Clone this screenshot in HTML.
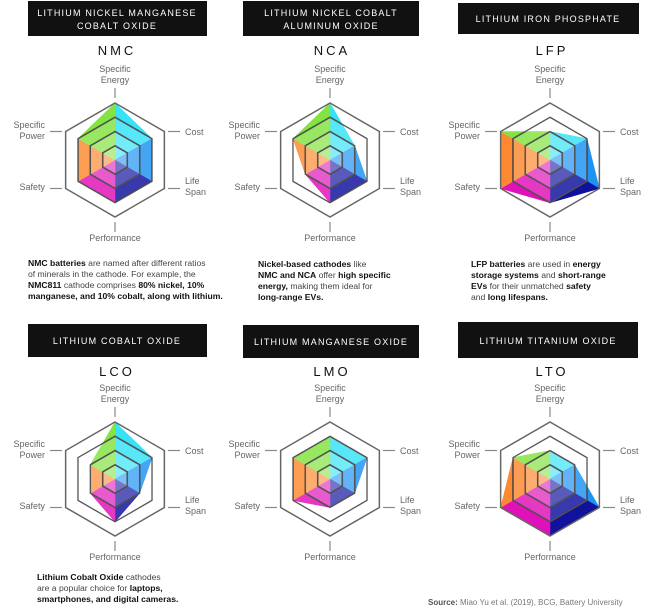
<!DOCTYPE html>
<html><head><meta charset="utf-8"><style>
html,body{margin:0;padding:0;background:#fff;width:655px;height:608px;overflow:hidden}
svg{display:block;font-family:"Liberation Sans",sans-serif}
.t{fill:#fff;font-size:9px;letter-spacing:1.2px;text-anchor:middle}
.c{fill:#111;font-size:13px;letter-spacing:3px;text-anchor:middle}
.l{fill:#666;font-size:9px}
.d{fill:#444;font-size:8.6px}
.d tspan.b{font-weight:bold;fill:#111}
</style></head><body>
<svg id="s" width="655" height="608" viewBox="0 0 655 608">
<rect x="28" y="1" width="179" height="35" fill="#111"/>
<text class="t" x="117" y="16">LITHIUM NICKEL MANGANESE</text>
<text class="t" x="117" y="29">COBALT OXIDE</text>
<rect x="243" y="1" width="176" height="35" fill="#111"/>
<text class="t" x="331" y="16">LITHIUM NICKEL COBALT</text>
<text class="t" x="331" y="29">ALUMINUM OXIDE</text>
<rect x="458" y="3" width="181" height="31" fill="#111"/>
<text class="t" x="548" y="22">LITHIUM IRON PHOSPHATE</text>
<rect x="28" y="324" width="179" height="33" fill="#111"/>
<text class="t" x="117" y="344">LITHIUM COBALT OXIDE</text>
<rect x="243" y="325" width="176" height="33" fill="#111"/>
<text class="t" x="331" y="345">LITHIUM MANGANESE OXIDE</text>
<rect x="458" y="322" width="180" height="36" fill="#111"/>
<text class="t" x="548" y="344">LITHIUM TITANIUM OXIDE</text>

<text class="c" x="117" y="55">NMC</text>
<text class="c" x="332" y="55">NCA</text>
<text class="c" x="552" y="55">LFP</text>
<text class="c" x="117" y="376">LCO</text>
<text class="c" x="332" y="376">LMO</text>
<text class="c" x="552" y="376">LTO</text>

<g id="g0" transform="translate(115,160)"></g>
<g id="g1" transform="translate(330,160)"></g>
<g id="g2" transform="translate(550,160)"></g>
<g id="g3" transform="translate(115,479)"></g>
<g id="g4" transform="translate(330,479)"></g>
<g id="g5" transform="translate(550,479)"></g>

<g transform="translate(115,160)" class="l"><text x="0" y="-88" text-anchor="middle">Specific</text><text x="0" y="-77" text-anchor="middle">Energy</text><text x="70" y="-25">Cost</text><text x="70" y="24">Life</text><text x="70" y="35">Span</text><text x="-70" y="30" text-anchor="end">Safety</text><text x="-70" y="-32" text-anchor="end">Specific</text><text x="-70" y="-21" text-anchor="end">Power</text><text x="0" y="81" text-anchor="middle">Performance</text></g>
<g transform="translate(330,160)" class="l"><text x="0" y="-88" text-anchor="middle">Specific</text><text x="0" y="-77" text-anchor="middle">Energy</text><text x="70" y="-25">Cost</text><text x="70" y="24">Life</text><text x="70" y="35">Span</text><text x="-70" y="30" text-anchor="end">Safety</text><text x="-70" y="-32" text-anchor="end">Specific</text><text x="-70" y="-21" text-anchor="end">Power</text><text x="0" y="81" text-anchor="middle">Performance</text></g>
<g transform="translate(550,160)" class="l"><text x="0" y="-88" text-anchor="middle">Specific</text><text x="0" y="-77" text-anchor="middle">Energy</text><text x="70" y="-25">Cost</text><text x="70" y="24">Life</text><text x="70" y="35">Span</text><text x="-70" y="30" text-anchor="end">Safety</text><text x="-70" y="-32" text-anchor="end">Specific</text><text x="-70" y="-21" text-anchor="end">Power</text><text x="0" y="81" text-anchor="middle">Performance</text></g>
<g transform="translate(115,479)" class="l"><text x="0" y="-88" text-anchor="middle">Specific</text><text x="0" y="-77" text-anchor="middle">Energy</text><text x="70" y="-25">Cost</text><text x="70" y="24">Life</text><text x="70" y="35">Span</text><text x="-70" y="30" text-anchor="end">Safety</text><text x="-70" y="-32" text-anchor="end">Specific</text><text x="-70" y="-21" text-anchor="end">Power</text><text x="0" y="81" text-anchor="middle">Performance</text></g>
<g transform="translate(330,479)" class="l"><text x="0" y="-88" text-anchor="middle">Specific</text><text x="0" y="-77" text-anchor="middle">Energy</text><text x="70" y="-25">Cost</text><text x="70" y="24">Life</text><text x="70" y="35">Span</text><text x="-70" y="30" text-anchor="end">Safety</text><text x="-70" y="-32" text-anchor="end">Specific</text><text x="-70" y="-21" text-anchor="end">Power</text><text x="0" y="81" text-anchor="middle">Performance</text></g>
<g transform="translate(550,479)" class="l"><text x="0" y="-88" text-anchor="middle">Specific</text><text x="0" y="-77" text-anchor="middle">Energy</text><text x="70" y="-25">Cost</text><text x="70" y="24">Life</text><text x="70" y="35">Span</text><text x="-70" y="30" text-anchor="end">Safety</text><text x="-70" y="-32" text-anchor="end">Specific</text><text x="-70" y="-21" text-anchor="end">Power</text><text x="0" y="81" text-anchor="middle">Performance</text></g>

<text class="d" x="28" y="266"><tspan class="b">NMC batteries</tspan> are named after different ratios</text>
<text class="d" x="28" y="277">of minerals in the cathode. For example, the</text>
<text class="d" x="28" y="288"><tspan class="b">NMC811</tspan> cathode comprises <tspan class="b">80% nickel, 10%</tspan></text>
<text class="d" x="28" y="299"><tspan class="b">manganese, and 10% cobalt, along with lithium.</tspan></text>

<text class="d" x="258" y="267"><tspan class="b">Nickel-based cathodes</tspan> like</text>
<text class="d" x="258" y="278"><tspan class="b">NMC and NCA</tspan> offer <tspan class="b">high specific</tspan></text>
<text class="d" x="258" y="289"><tspan class="b">energy,</tspan> making them ideal for</text>
<text class="d" x="258" y="300"><tspan class="b">long-range EVs.</tspan></text>

<text class="d" x="471" y="267"><tspan class="b">LFP batteries</tspan> are used in <tspan class="b">energy</tspan></text>
<text class="d" x="471" y="278"><tspan class="b">storage systems</tspan> and <tspan class="b">short-range</tspan></text>
<text class="d" x="471" y="289"><tspan class="b">EVs</tspan> for their unmatched <tspan class="b">safety</tspan></text>
<text class="d" x="471" y="300">and <tspan class="b">long lifespans.</tspan></text>

<text class="d" x="37" y="580"><tspan class="b">Lithium Cobalt Oxide</tspan> cathodes</text>
<text class="d" x="37" y="591">are a popular choice for <tspan class="b">laptops,</tspan></text>
<text class="d" x="37" y="602"><tspan class="b">smartphones, and digital cameras.</tspan></text>

<text class="d" x="428" y="605" style="font-size:8px;fill:#777"><tspan class="b" style="fill:#555">Source:</tspan> Miao Yu et al. (2019), BCG, Battery University</text>
</svg>
<script>
(function(){
var NS="http://www.w3.org/2000/svg";
var data=[[4,3,3,3,3,3],[4,2,3,3,2,3],[2,3,4,3,4,4],[4,3,2,3,2,2],[3,3,2,2,3,3],[2,2,4,4,4,3]];
var cols=["#35e2f7","#1f93f2","#10129c","#e011b9","#fd8a32","#82e342"];
var ang=[-90,-30,30,90,150,210];
function pt(i,r){var a=ang[i]*Math.PI/180;return [r*Math.cos(a),r*Math.sin(a)];}
function hex(r){var s=[];for(var i=0;i<6;i++){var p=pt(i,r);s.push(p[0].toFixed(2)+","+p[1].toFixed(2));}return s.join(" ");}
function el(g,n,a){var e=document.createElementNS(NS,n);for(var k in a)e.setAttribute(k,a[k]);g.appendChild(e);return e;}
var R=57,u=R/4;
data.forEach(function(d,k){
 var g=document.getElementById("g"+k);
 var P=d.map(function(v,i){return pt(i,v*u);});
 var cp=el(g,"clipPath",{id:"cp"+k});
 el(cp,"polygon",{points:P.map(function(p){return p.join(",")}).join(" ")});
 for(var i=0;i<6;i++){var a=P[i],b=P[(i+1)%6];
  el(g,"polygon",{points:"0,0 "+a.join(",")+" "+b.join(","),fill:cols[i],stroke:cols[i],"stroke-width":0.5});}
 var cg=el(g,"g",{"clip-path":"url(#cp"+k+")"});
 [3,2,1].forEach(function(l){el(cg,"polygon",{points:hex(l*u),fill:"#fff","fill-opacity":0.17});});
 [1,2,3].forEach(function(l){el(g,"polygon",{points:hex(l*u),fill:"none",stroke:"#555","stroke-width":1.3});});
 [1,2,3].forEach(function(l){el(cg,"polygon",{points:hex(l*u),fill:"none",stroke:"#222","stroke-width":1.4});});
 el(g,"polygon",{points:hex(R),fill:"none",stroke:"#666","stroke-width":1.5});
 var T=[[0,-72,0,-62],[53,-28.5,65,-28.5],[53,28.5,65,28.5],[0,62,0,72],[-53,28.5,-65,28.5],[-53,-28.5,-65,-28.5]];
 T.forEach(function(t){el(g,"line",{x1:t[0],y1:t[1],x2:t[2],y2:t[3],stroke:"#888","stroke-width":1.2});});
});
})();
</script>
</body></html>
